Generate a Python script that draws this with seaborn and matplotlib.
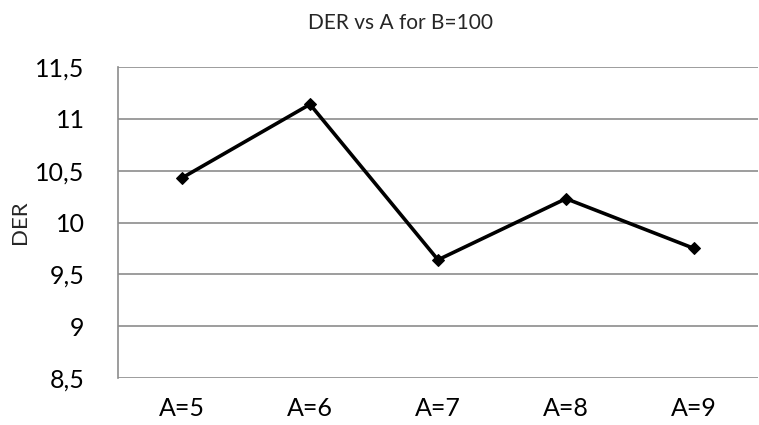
import matplotlib
matplotlib.use("Agg")
import matplotlib.pyplot as plt
import seaborn as sns
import pandas as pd

categories = ["A=5", "A=6", "A=7", "A=8", "A=9"]
der_values = [10.43, 11.14, 9.64, 10.23, 9.75]
y_ticks = [8.5, 9, 9.5, 10, 10.5, 11, 11.5]
y_tick_labels = ["8,5", "9", "9,5", "10", "10,5", "11", "11,5"]

sns.set_theme(style="white")
plt.rcParams['font.family'] = ['Lato', 'DejaVu Sans']

df = pd.DataFrame({"A": categories, "DER": der_values})

fig = plt.figure(figsize=(7.59, 4.25), dpi=100)
ax = fig.add_axes([118/759, 1 - 378/425, (758 - 118)/759, (378 - 67)/425])

sns.lineplot(data=df, x="A", y="DER", ax=ax, color="black", linewidth=2.6,
             marker="D", markersize=6.5, markeredgecolor="black", sort=False)

ax.set_xlim(-0.5, len(categories) - 0.5)
ax.set_ylim(8.5, 11.5)
ax.set_yticks(y_ticks)
ax.set_yticklabels(y_tick_labels)
ax.yaxis.grid(True, color="#8c8c8c", linewidth=1.2)
ax.xaxis.grid(False)
for s in ["top", "right", "bottom"]:
    ax.spines[s].set_visible(False)
ax.spines["left"].set_color("#8c8c8c")
ax.spines["left"].set_linewidth(1.2)
ax.tick_params(axis="both", labelsize=18, length=0, colors="black")
ax.tick_params(axis="y", pad=24)
ax.tick_params(axis="x", pad=14)
ax.set_xlabel("")
ax.set_ylabel("DER", fontsize=16)
ax.yaxis.set_label_coords(-88/640, 0.5)
ax.set_axisbelow(True)
fig.text(400/759, 1 - 23/425, "DER vs A for B=100",
         ha="center", va="center", fontsize=15)

fig.savefig("out.png", dpi=100)
